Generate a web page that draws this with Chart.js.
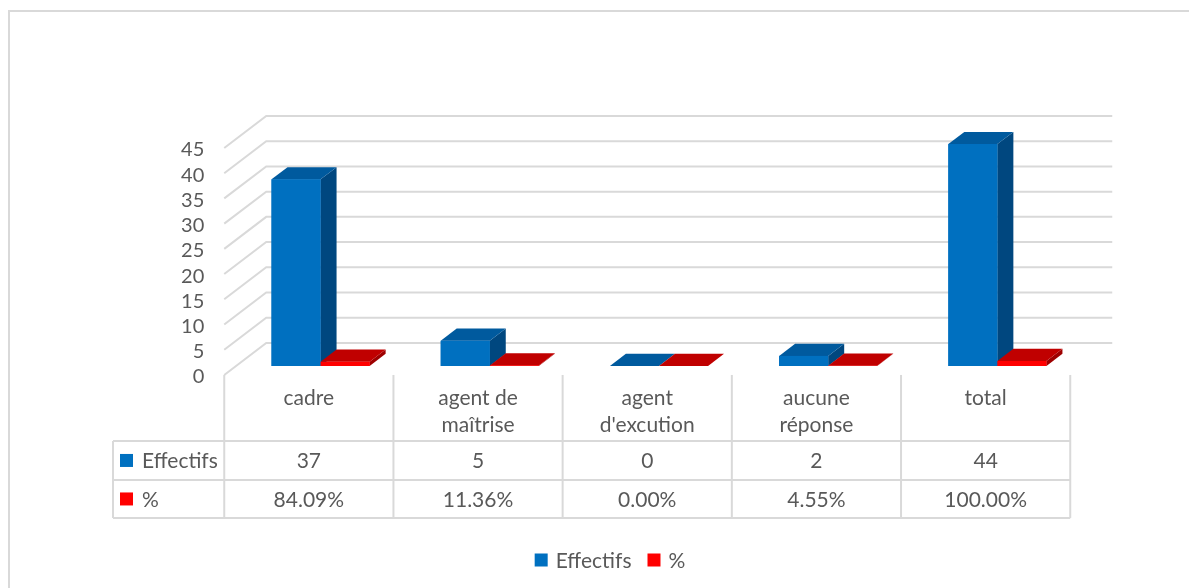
<!DOCTYPE html>
<html>
<head>
<meta charset="utf-8">
<title>Effectifs</title>
<script src="https://cdn.jsdelivr.net/npm/chart.js@4/dist/chart.umd.min.js"></script>
<style>
  html, body { margin: 0; padding: 0; background: #fff; }
  #wrap { width: 1189px; height: 588px; position: relative; }
</style>
</head>
<body>
<div id="wrap"><canvas id="chart" width="1189" height="588"></canvas></div>
<script>
// data
const categories = [['cadre'], ['agent de', 'maîtrise'], ['agent', "d'excution"], ['aucune', 'réponse'], ['total']];
const effectifs = [37, 5, 0, 2, 44];
const pourcent = [0.8409, 0.1136, 0, 0.0455, 1];
const yTicks = [0, 5, 10, 15, 20, 25, 30, 35, 40, 45];

const FONT = 'Lato, "Open Sans", sans-serif';
const TEXT = '#595959';
const GRID = '#d9d9d9';

// 3d look: full depth of the box and where the bars sit in it
const DEPTH_X = 42, DEPTH_Y = -32;
const BAR_FRONT = 0.28;
const BAR_DEPTH = 0.38;

const shades = {
  '#0070C0': { side: '#00477F', top: '#005A9E' },
  '#FF0000': { side: '#9E0000', top: '#C00000' }
};

function poly(ctx, pts, fill) {
  ctx.beginPath();
  ctx.moveTo(pts[0][0], pts[0][1]);
  for (let i = 1; i < pts.length; i++) ctx.lineTo(pts[i][0], pts[i][1]);
  ctx.closePath();
  ctx.fillStyle = fill;
  ctx.fill();
}

const excel3d = {
  id: 'excel3d',
  beforeDatasetsDraw(chart) {
    const ctx = chart.ctx;
    const ys = chart.scales.y;
    const area = chart.chartArea;
    const fx = -BAR_FRONT * DEPTH_X, fy = -BAR_FRONT * DEPTH_Y;
    const bx = (1 - BAR_FRONT) * DEPTH_X, by = (1 - BAR_FRONT) * DEPTH_Y;
    ctx.save();

    // outer chart border (top and left only show)
    ctx.strokeStyle = GRID;
    ctx.lineWidth = 2;
    ctx.beginPath();
    ctx.moveTo(9, 600);
    ctx.lineTo(9, 11);
    ctx.lineTo(1200, 11);
    ctx.stroke();

    // back wall and side wall grid
    yTicks.forEach(function(v) {
      const y = ys.getPixelForValue(v);
      ctx.beginPath();
      ctx.moveTo(area.left + fx, y + fy);
      ctx.lineTo(area.left + bx, y + by);
      ctx.lineTo(area.right + bx, y + by);
      ctx.stroke();
    });

    // y labels on the front edge
    ctx.fillStyle = TEXT;
    ctx.font = '20px ' + FONT;
    ctx.textAlign = 'right';
    ctx.textBaseline = 'middle';
    yTicks.forEach(function(v) {
      ctx.fillText(String(v), area.left + fx - 20, ys.getPixelForValue(v) + fy + 2);
    });
    ctx.restore();
  },
  afterDatasetsDraw(chart) {
    const ctx = chart.ctx;
    const dx = BAR_DEPTH * DEPTH_X, dy = BAR_DEPTH * DEPTH_Y;
    ctx.save();
    for (let i = 0; i < categories.length; i++) {
      chart.data.datasets.forEach(function(ds, d) {
        const el = chart.getDatasetMeta(d).data[i];
        const p = el.getProps(['x', 'y', 'base', 'width'], true);
        const l = p.x - p.width / 2, r = p.x + p.width / 2;
        const c = shades[ds.backgroundColor];
        poly(ctx, [[r, p.y], [r + dx, p.y + dy], [r + dx, p.base + dy], [r, p.base]], c.side);
        poly(ctx, [[l, p.y], [l + dx, p.y + dy], [r + dx, p.y + dy], [r, p.y]], c.top);
        ctx.fillStyle = ds.backgroundColor;
        ctx.fillRect(l, p.y, p.width, p.base - p.y);
      });
    }
    ctx.restore();
  },
  afterDraw(chart) {
    const ctx = chart.ctx;
    const xs = chart.scales.x, ys = chart.scales.y;
    const fx = -BAR_FRONT * DEPTH_X, fy = -BAR_FRONT * DEPTH_Y;
    const half = (xs.getPixelForValue(1) - xs.getPixelForValue(0)) / 2;
    const top = ys.getPixelForValue(0) + fy;
    const rowTop = [top, top + 66, top + 105, top + 143];
    const tableLeft = 113;
    const tableRight = xs.getPixelForValue(categories.length - 1) + fx + half;
    ctx.save();

    // table lines
    ctx.strokeStyle = GRID;
    ctx.lineWidth = 2;
    for (let i = 0; i <= categories.length; i++) {
      const x = xs.getPixelForValue(0) + fx - half + i * 2 * half;
      ctx.beginPath();
      ctx.moveTo(x, rowTop[0]);
      ctx.lineTo(x, rowTop[3]);
      ctx.stroke();
    }
    ctx.beginPath();
    ctx.moveTo(tableLeft, rowTop[1]);
    ctx.lineTo(tableLeft, rowTop[3]);
    ctx.stroke();
    [1, 2, 3].forEach(function(r) {
      ctx.beginPath();
      ctx.moveTo(tableLeft, rowTop[r]);
      ctx.lineTo(tableRight, rowTop[r]);
      ctx.stroke();
    });

    // table text
    ctx.fillStyle = TEXT;
    ctx.font = '21px ' + FONT;
    ctx.textAlign = 'center';
    ctx.textBaseline = 'middle';
    const rows = chart.data.datasets.map(function(ds, d) {
      return ds.data.map(function(v) { return d === 0 ? String(v) : (v * 100).toFixed(2) + '%'; });
    });
    categories.forEach(function(lines, i) {
      const cx = xs.getPixelForValue(i) + fx;
      lines.forEach(function(t, k) { ctx.fillText(t, cx, rowTop[0] + 23 + k * 27); });
      rows.forEach(function(row, r) {
        ctx.fillText(row[i], cx, (rowTop[r + 1] + rowTop[r + 2]) / 2 + 1);
      });
    });
    chart.data.datasets.forEach(function(ds, r) {
      const my = (rowTop[r + 1] + rowTop[r + 2]) / 2;
      ctx.fillStyle = ds.backgroundColor;
      ctx.fillRect(tableLeft + 7, my - 6.5, 13, 13);
      ctx.fillStyle = TEXT;
      ctx.textAlign = 'left';
      ctx.fillText(ds.label, tableLeft + 29, my + 1);
    });

    // legend
    const items = chart.data.datasets.map(function(ds) {
      return { label: ds.label, color: ds.backgroundColor, w: 13 + 8 + ctx.measureText(ds.label).width };
    });
    const gap = 16;
    let total = gap * (items.length - 1);
    items.forEach(function(it) { total += it.w; });
    let lx = 610 - total / 2;
    const ly = 560;
    items.forEach(function(it) {
      ctx.fillStyle = it.color;
      ctx.fillRect(lx, ly - 6.5, 13, 13);
      ctx.fillStyle = TEXT;
      ctx.fillText(it.label, lx + 21, ly + 1);
      lx += it.w + gap;
    });
    ctx.restore();
  }
};

new Chart(document.getElementById('chart'), {
  type: 'bar',
  data: {
    labels: categories,
    datasets: [
      { label: 'Effectifs', data: effectifs, backgroundColor: '#0070C0' },
      { label: '%', data: pourcent, backgroundColor: '#FF0000' }
    ]
  },
  options: {
    responsive: false,
    animation: false,
    categoryPercentage: 0.58,
    barPercentage: 1,
    layout: { padding: { left: 236, right: 107, top: 139, bottom: 222 } },
    scales: {
      x: { display: false },
      y: { display: false, min: 0, max: 45 }
    },
    plugins: {
      legend: { display: false },
      tooltip: { enabled: false }
    }
  },
  plugins: [excel3d]
});
</script>
</body>
</html>
